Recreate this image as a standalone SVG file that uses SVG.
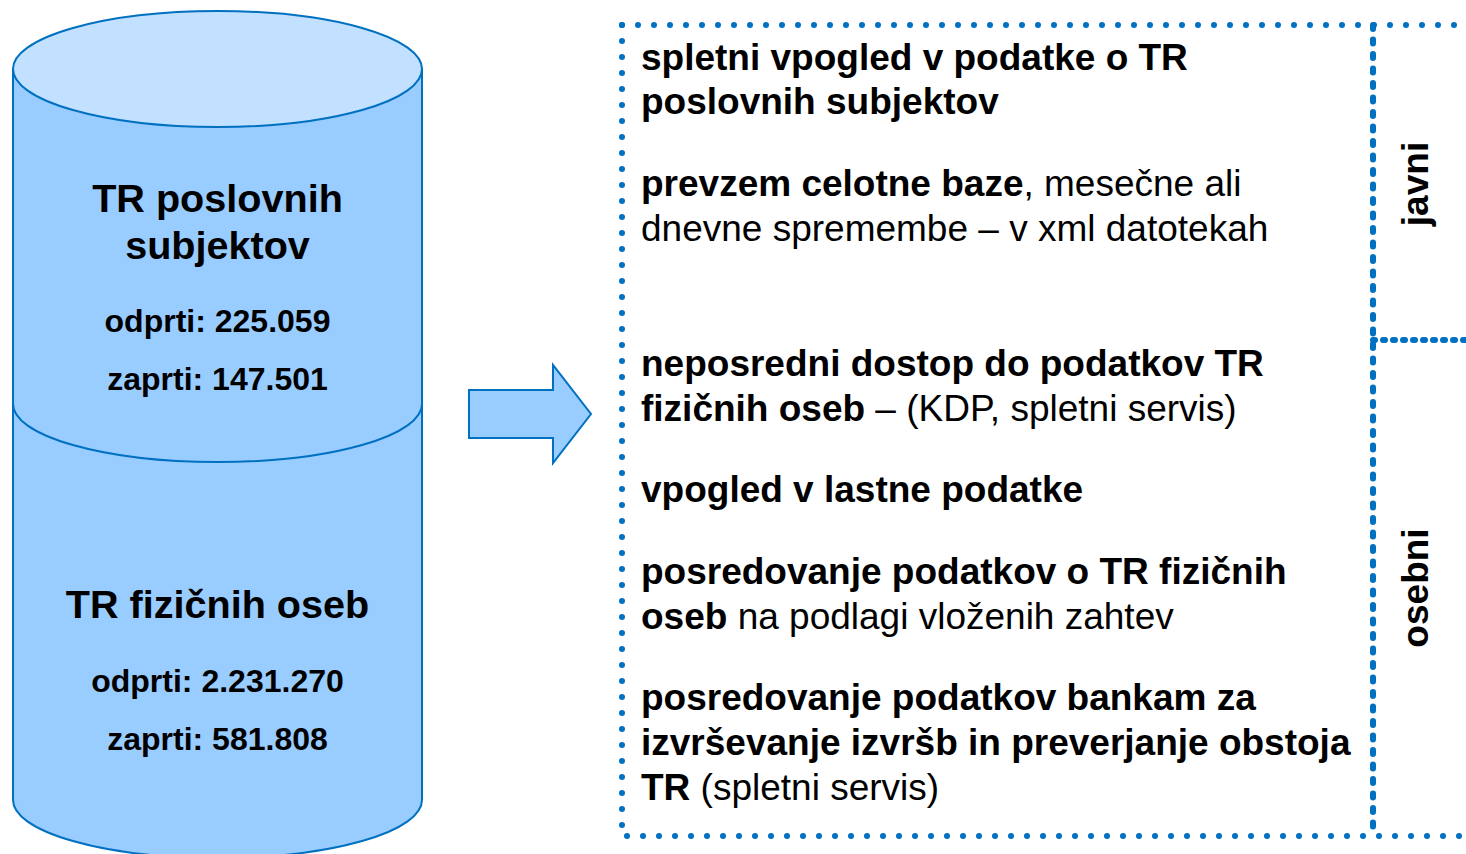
<svg xmlns="http://www.w3.org/2000/svg" width="1466" height="854" viewBox="0 0 1466 854">
<style>
.shape{fill:#99CCFF;stroke:#0070C0;stroke-width:2}
.top{fill:#C2E0FF;stroke:#0070C0;stroke-width:2}
.t{font-family:"Liberation Sans",Arial,sans-serif;fill:#000}
.b{font-weight:bold}
.ct{font-family:"Liberation Sans",Arial,sans-serif;font-weight:bold;text-anchor:middle;fill:#000}
.dot{fill:none;stroke:#0070C0;stroke-width:6;stroke-linecap:round}
</style>
<rect width="1466" height="854" fill="#fff"/>
<g id="cyl-fizicne">
<path class="shape" d="M13,404 L13,800 A204.5,58 0 0 0 422,800 L422,404 Z"/>
<text class="ct" x="217.5" y="618" font-size="39.6">TR fizičnih oseb</text>
<text class="ct" x="217.5" y="692" font-size="32">odprti: 2.231.270</text>
<text class="ct" x="217.5" y="750" font-size="32">zaprti: 581.808</text>
</g>
<g id="cyl-poslovni">
<path class="shape" d="M13,69 L13,404 A204.5,58 0 0 0 422,404 L422,69 Z"/>
<ellipse class="top" cx="217.5" cy="69" rx="204.5" ry="58"/>
<text class="ct" x="217.5" y="212" font-size="39.6">TR poslovnih</text>
<text class="ct" x="217.5" y="259" font-size="39.6">subjektov</text>
<text class="ct" x="217.5" y="332" font-size="32">odprti: 225.059</text>
<text class="ct" x="217.5" y="390" font-size="32">zaprti: 147.501</text>
</g>
<g id="connectors">
<path class="shape" d="M469,390 L553,390 L553,365 L591,414 L553,463 L553,438 L469,438 Z"/>
</g>
<g id="box">
<path class="dot" stroke-dasharray="0 16" d="M622,25 L1466,25"/>
<path class="dot" stroke-dasharray="0 16" d="M622,25 L622,836 L1466,836"/>
<path class="dot" stroke-dasharray="4 10.5" d="M1373,25 L1373,836"/>
<path class="dot" stroke-dasharray="2 8" d="M1373,340 L1466,340"/>
</g>
<g id="items">
<text class="t" font-size="37"><tspan class="b" x="641" y="70">spletni vpogled v podatke o TR</tspan><tspan class="b" x="641" y="114">poslovnih subjektov</tspan></text>
<text class="t" font-size="37"><tspan x="641" y="196"><tspan class="b">prevzem celotne baze</tspan>, mesečne ali</tspan><tspan x="641" y="241">dnevne spremembe – v xml datotekah</tspan></text>
<text class="t" font-size="37"><tspan class="b" x="641" y="376">neposredni dostop do podatkov TR</tspan><tspan x="641" y="421"><tspan class="b">fizičnih oseb</tspan> – (KDP, spletni servis)</tspan></text>
<text class="t b" font-size="37" x="641" y="502">vpogled v lastne podatke</text>
<text class="t" font-size="37"><tspan class="b" x="641" y="584">posredovanje podatkov o TR fizičnih</tspan><tspan x="641" y="629"><tspan class="b">oseb</tspan> na podlagi vloženih zahtev</tspan></text>
<text class="t" font-size="37"><tspan class="b" x="641" y="710">posredovanje podatkov bankam za</tspan><tspan class="b" x="641" y="755">izvrševanje izvršb in preverjanje obstoja</tspan><tspan x="641" y="800"><tspan class="b">TR</tspan> (spletni servis)</tspan></text>
</g>
<g id="labels">
<text class="ct" font-size="37" transform="translate(1428,184) rotate(-90)">javni</text>
<text class="ct" font-size="37" transform="translate(1428,588) rotate(-90)">osebni</text>
</g>
</svg>
